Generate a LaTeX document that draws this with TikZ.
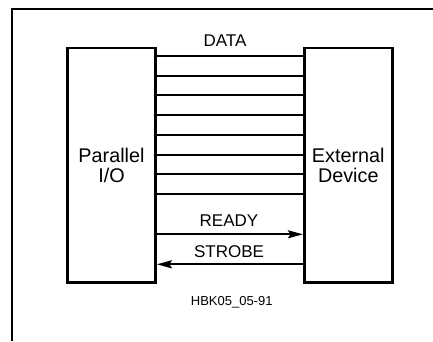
\documentclass[tikz,border=0pt]{standalone}
\usepackage{fontspec}
\setmainfont{Liberation Sans}
\usetikzlibrary{arrows.meta,positioning}

\begin{document}
\begin{tikzpicture}[
  x=1pt, y=-1pt, >={Stealth[length=15pt,width=8pt,inset=2.5pt]},
  unit/.style={rectangle, draw, line width=2.8pt, minimum width=88pt,
    minimum height=234.5pt, align=center, font=\fontsize{19.8}{20}\selectfont},
  wire/.style={line width=2pt},
  tag/.style={font=\fontsize{17}{18}\selectfont, inner sep=1pt}
]
  \useasboundingbox (0,0) rectangle (433,341);
  \draw[line width=1.8pt] (433,9) -- (12,9) -- (12,341);

  \node[unit] (pio) at (111.5,165.3) {Parallel\\I/O};
  \node[unit, right=146pt of pio] (ext) {External\\Device};

  % data bus
  \foreach \y in {56,75.7,95.4,115.1,134.8,154.5,174.2,193.9}
    \draw[wire] (pio.east |- 0,\y) -- (ext.west |- 0,\y);
  \node[tag] (data) at (225,40.7) {DATA};

  % handshake
  \coordinate (rdy) at (0,234.3);
  \coordinate (stb) at (0,264.3);
  \path (pio.east |- rdy) edge[wire, ->] (ext.west |- rdy)
        (ext.west |- stb) edge[wire, ->] (pio.east |- stb);
  \node[tag] (ready) at (229,221) {READY};
  \node[tag] (strobe) at (229,251.7) {STROBE};

  \node[font=\fontsize{13}{14}\selectfont] (fig) at (231.7,302) {HBK05\_05-91};
\end{tikzpicture}
\end{document}
